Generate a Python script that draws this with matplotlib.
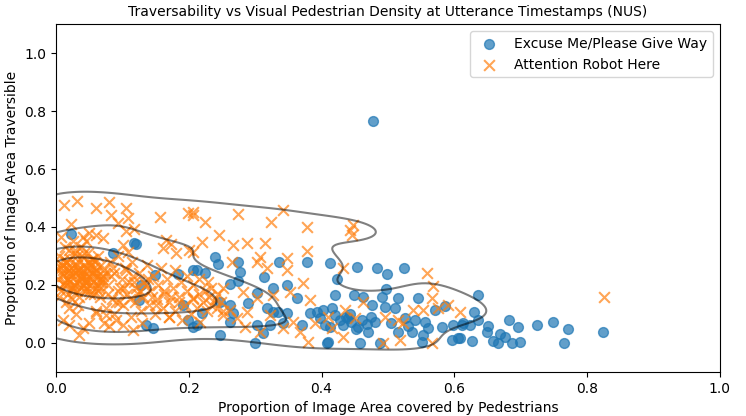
import numpy as np
import matplotlib
matplotlib.use("Agg")
import matplotlib.pyplot as plt
import seaborn as sns

# "Excuse Me/Please Give Way" (pedestrian share, traversable share)
excuse_x = [0.477, 0.117, 0.086, 0.023, 0.120, 0.149, 0.128, 0.184, 0.206, 0.125,
            0.191, 0.199, 0.136, 0.146, 0.206, 0.239, 0.244, 0.274, 0.212, 0.224,
            0.277, 0.313, 0.336, 0.378, 0.262, 0.274, 0.327, 0.348, 0.303, 0.363,
            0.247, 0.262, 0.267, 0.289, 0.318, 0.327, 0.334, 0.348, 0.220, 0.212,
            0.303, 0.322, 0.342, 0.370, 0.383, 0.393, 0.402, 0.398, 0.405, 0.247,
            0.312, 0.300, 0.408, 0.262, 0.413, 0.453, 0.483, 0.498, 0.524, 0.423,
            0.497, 0.420, 0.449, 0.462, 0.491, 0.515, 0.545, 0.476, 0.495, 0.511,
            0.416, 0.420, 0.440, 0.461, 0.480, 0.526, 0.541, 0.556, 0.581, 0.598,
            0.611, 0.413, 0.432, 0.455, 0.470, 0.515, 0.536, 0.553, 0.410, 0.458,
            0.488, 0.551, 0.596, 0.605, 0.636, 0.630, 0.636, 0.651, 0.613, 0.623,
            0.649, 0.682, 0.696, 0.724, 0.748, 0.771, 0.824, 0.669, 0.676, 0.658,
            0.666, 0.687, 0.699, 0.765, 0.627, 0.608, 0.571, 0.586, 0.445, 0.437,
            0.452, 0.468, 0.428, 0.443, 0.475, 0.505, 0.530, 0.560]
excuse_y = [0.766, 0.345, 0.310, 0.376, 0.341, 0.234, 0.200, 0.238, 0.252, 0.148,
            0.131, 0.079, 0.062, 0.052, 0.055, 0.297, 0.272, 0.279, 0.252, 0.241,
            0.245, 0.228, 0.279, 0.279, 0.203, 0.214, 0.190, 0.200, 0.172, 0.155,
            0.141, 0.131, 0.103, 0.138, 0.121, 0.107, 0.107, 0.103, 0.103, 0.062,
            0.062, 0.062, 0.069, 0.062, 0.103, 0.107, 0.114, 0.086, 0.062, 0.028,
            0.034, 0.000, 0.000, 0.072, 0.276, 0.262, 0.259, 0.238, 0.259, 0.221,
            0.186, 0.166, 0.166, 0.159, 0.159, 0.155, 0.155, 0.131, 0.124, 0.121,
            0.121, 0.097, 0.086, 0.079, 0.072, 0.086, 0.079, 0.072, 0.055, 0.062,
            0.062, 0.055, 0.062, 0.055, 0.038, 0.038, 0.038, 0.028, 0.003, 0.000,
            0.000, 0.003, 0.010, 0.017, 0.166, 0.107, 0.079, 0.059, 0.069, 0.062,
            0.038, 0.079, 0.055, 0.062, 0.072, 0.048, 0.038, 0.031, 0.021, 0.007,
            0.000, 0.000, 0.003, 0.000, 0.007, 0.017, 0.114, 0.128, 0.072, 0.090,
            0.048, 0.066, 0.080, 0.100, 0.090, 0.070, 0.060, 0.050]

# "Attention Robot Here"
attn_x = [0.012, 0.032, 0.060, 0.080, 0.105, 0.083, 0.108, 0.093, 0.105, 0.117,
          0.157, 0.199, 0.206, 0.023, 0.060, 0.071, 0.050, 0.041, 0.166, 0.173,
          0.161, 0.181, 0.200, 0.008, 0.101, 0.108, 0.206, 0.224, 0.274, 0.324,
          0.342, 0.378, 0.245, 0.220, 0.267, 0.288, 0.315, 0.206, 0.378, 0.307,
          0.348, 0.447, 0.446, 0.443, 0.432, 0.559, 0.568, 0.462, 0.435, 0.410,
          0.450, 0.495, 0.538, 0.553, 0.566, 0.575, 0.590, 0.608, 0.416, 0.515,
          0.523, 0.432, 0.492, 0.518, 0.566, 0.825, 0.265, 0.303, 0.318, 0.348,
          0.372, 0.206, 0.229, 0.251, 0.282, 0.303, 0.327, 0.352, 0.383, 0.262,
          0.288, 0.322, 0.357, 0.251, 0.217, 0.285, 0.307, 0.342, 0.380, 0.367,
          0.390, 0.273, 0.035, 0.020, 0.072, 0.101, 0.116, 0.075, 0.060,
          # dense cluster, left
          0.005, 0.010, 0.012, 0.015, 0.018, 0.020, 0.022, 0.025, 0.027, 0.030,
          0.032, 0.034, 0.036, 0.038, 0.040, 0.042, 0.044, 0.046, 0.048, 0.050,
          0.052, 0.054, 0.056, 0.058, 0.060, 0.062, 0.064, 0.066, 0.068, 0.070,
          0.003, 0.008, 0.013, 0.017, 0.021, 0.024, 0.028, 0.031, 0.035, 0.039,
          0.043, 0.047, 0.051, 0.055, 0.059, 0.063, 0.067, 0.072, 0.026, 0.045,
          0.015, 0.033, 0.005, 0.009, 0.019, 0.029, 0.037, 0.041, 0.049, 0.057,
          0.011, 0.016, 0.023, 0.027, 0.034, 0.044, 0.053, 0.061, 0.002, 0.038,
          0.014, 0.019, 0.024, 0.031, 0.036, 0.043, 0.048, 0.054, 0.058, 0.065,
          0.007, 0.012, 0.018, 0.026, 0.033, 0.039, 0.046, 0.052, 0.063, 0.071,
          0.004, 0.010, 0.017, 0.022, 0.029, 0.035, 0.042, 0.050, 0.056, 0.069,
          0.009, 0.015, 0.021, 0.028, 0.037, 0.044, 0.051, 0.060, 0.066, 0.074,
          # band towards the middle
          0.076, 0.079, 0.081, 0.084, 0.087, 0.088, 0.093, 0.094, 0.099, 0.101,
          0.104, 0.107, 0.110, 0.113, 0.114, 0.119, 0.121, 0.125, 0.128, 0.131,
          0.132, 0.137, 0.140, 0.141, 0.146, 0.149, 0.152, 0.153, 0.158, 0.161,
          0.163, 0.167, 0.170, 0.171, 0.176, 0.179, 0.180, 0.185, 0.188, 0.190,
          0.194, 0.197, 0.198, 0.203, 0.206, 0.207, 0.212, 0.215, 0.216, 0.221,
          0.224, 0.227, 0.230, 0.233, 0.234, 0.239, 0.242, 0.244, 0.248, 0.251,
          0.010, 0.030, 0.050, 0.020, 0.060, 0.080, 0.040, 0.090, 0.130, 0.170,
          0.078, 0.083, 0.091, 0.097, 0.106, 0.111, 0.118, 0.124, 0.135, 0.144,
          0.086, 0.095, 0.103, 0.116, 0.127, 0.139, 0.150, 0.162, 0.174, 0.186]
attn_y = [0.476, 0.490, 0.466, 0.486, 0.466, 0.441, 0.431, 0.414, 0.386, 0.393,
          0.434, 0.448, 0.441, 0.410, 0.372, 0.362, 0.379, 0.366, 0.355, 0.341,
          0.328, 0.310, 0.321, 0.366, 0.338, 0.314, 0.452, 0.417, 0.445, 0.417,
          0.459, 0.400, 0.372, 0.348, 0.338, 0.345, 0.345, 0.314, 0.317, 0.297,
          0.293, 0.407, 0.372, 0.390, 0.259, 0.241, 0.197, 0.141, 0.114, 0.090,
          0.086, 0.090, 0.114, 0.114, 0.155, 0.121, 0.131, 0.107, 0.052, 0.079,
          0.069, 0.021, 0.000, 0.010, 0.000, 0.159, 0.279, 0.279, 0.259, 0.252,
          0.207, 0.155, 0.210, 0.190, 0.176, 0.155, 0.166, 0.176, 0.148, 0.114,
          0.107, 0.097, 0.072, 0.097, 0.072, 0.055, 0.038, 0.052, 0.003, 0.038,
          0.069, 0.086, 0.028, 0.062, 0.069, 0.062, 0.045, 0.097, 0.103,
          # dense cluster, left
          0.30, 0.25, 0.20, 0.28, 0.17, 0.32, 0.23, 0.19, 0.27, 0.21,
          0.30, 0.16, 0.24, 0.33, 0.20, 0.27, 0.18, 0.22, 0.31, 0.25,
          0.17, 0.29, 0.21, 0.26, 0.19, 0.23, 0.30, 0.16, 0.27, 0.21,
          0.22, 0.18, 0.33, 0.26, 0.29, 0.15, 0.24, 0.18, 0.28, 0.22,
          0.31, 0.26, 0.20, 0.24, 0.28, 0.18, 0.22, 0.25, 0.35, 0.35,
          0.14, 0.13, 0.16, 0.27, 0.21, 0.32, 0.19, 0.25, 0.23, 0.17,
          0.24, 0.22, 0.26, 0.20, 0.25, 0.21, 0.27, 0.24, 0.26, 0.23,
          0.21, 0.25, 0.19, 0.27, 0.23, 0.20, 0.28, 0.22, 0.24, 0.19,
          0.26, 0.29, 0.22, 0.18, 0.25, 0.30, 0.21, 0.27, 0.20, 0.23,
          0.19, 0.23, 0.28, 0.24, 0.20, 0.26, 0.23, 0.18, 0.29, 0.22,
          0.27, 0.20, 0.24, 0.31, 0.22, 0.19, 0.28, 0.25, 0.21, 0.24,
          # band towards the middle
          0.12, 0.20, 0.28, 0.15, 0.24, 0.10, 0.18, 0.30, 0.22, 0.13,
          0.26, 0.17, 0.21, 0.09, 0.28, 0.14, 0.19, 0.24, 0.11, 0.16,
          0.21, 0.27, 0.13, 0.18, 0.23, 0.10, 0.15, 0.20, 0.26, 0.12,
          0.17, 0.22, 0.09, 0.14, 0.19, 0.25, 0.11, 0.16, 0.21, 0.08,
          0.13, 0.18, 0.23, 0.10, 0.15, 0.20, 0.12, 0.17, 0.22, 0.14,
          0.18, 0.11, 0.16, 0.13, 0.19, 0.15, 0.12, 0.17, 0.14, 0.11,
          0.08, 0.10, 0.07, 0.12, 0.11, 0.06, 0.05, 0.08, 0.07, 0.09,
          0.17, 0.23, 0.14, 0.19, 0.25, 0.15, 0.21, 0.17, 0.20, 0.16,
          0.26, 0.14, 0.19, 0.23, 0.18, 0.22, 0.13, 0.18, 0.16, 0.14]

fig, ax = plt.subplots(figsize=(7.46, 4.16), dpi=100)
fig.subplots_adjust(left=0.075, right=0.965, bottom=0.106, top=0.942)

# density contours of the "Attention" points
sns.kdeplot(x=attn_x, y=attn_y, levels=5, color="black", alpha=0.5,
            linewidths=1.5, ax=ax)

ax.scatter(excuse_x, excuse_y, marker="o", s=50, alpha=0.7,
           color="#1f77b4", label="Excuse Me/Please Give Way")
ax.scatter(attn_x, attn_y, marker="x", s=60, alpha=0.7,
           color="#ff7f0e", label="Attention Robot Here")

ax.set_xlim(0, 1)
ax.set_ylim(-0.1, 1.1)
ax.set_xlabel("Proportion of Image Area covered by Pedestrians")
ax.set_ylabel("Proportion of Image Area Traversible")
ax.set_title("Traversability vs Visual Pedestrian Density at Utterance Timestamps (NUS)",
             fontsize=10)
ax.legend(loc="upper right")

fig.savefig("out.png")
